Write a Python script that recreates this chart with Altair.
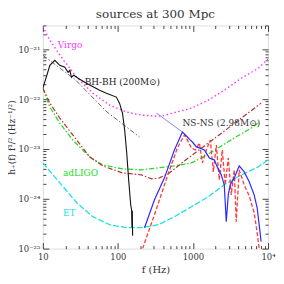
import altair as alt
import pandas as pd

FONT = "DejaVu Serif"

# ---------------- data ----------------
virgo_f = [10, 12.4, 18.5, 28.3, 46.1, 77.6, 131, 206, 326, 380, 953, 1603, 2612, 4395, 7390, 10000]
virgo_h = [2.88e-21, 1.51e-21, 6.31e-22, 2.75e-22, 1.32e-22, 7.59e-23, 5.50e-23, 4.79e-23, 4.57e-23,
           4.57e-23, 6.61e-23, 9.55e-23, 1.51e-22, 2.63e-22, 4.17e-22, 6.31e-22]

bhbh_f = [10, 12.4, 14.4, 16.8, 19.6, 21.7, 22.9, 24.0, 25.8, 29.5, 38.0, 57.1, 70.2, 95.2, 105, 115,
          123, 131, 139, 148, 152, 154, 155.5, 157]
bhbh_h = [1.66e-22, 4.79e-22, 6.03e-22, 4.79e-22, 4.37e-22, 3.47e-22, 3.80e-22, 2.75e-22, 3.02e-22,
          2.63e-22, 2.09e-22, 1.51e-22, 1.32e-22, 1.10e-22, 8.32e-23, 5.25e-23, 2.40e-23, 8.32e-24,
          2.40e-24, 7.59e-25, 6.03e-25, 2.63e-25, 5.75e-25, 1.82e-25]

bhfit_f = [10, 26.6, 71.7, 194]
bhfit_h = [7.59e-22, 2.51e-22, 5.50e-23, 1.74e-23]

adligo_f = [10, 12.4, 16.8, 25.0, 42.1, 62.6, 115, 206, 566, 953, 1217, 1603, 3548, 5970, 7620]
adligo_h = [1.66e-22, 6.92e-23, 3.31e-23, 1.51e-23, 6.92e-24, 4.79e-24, 3.98e-24, 3.80e-24,
            4.57e-24, 5.25e-24, 6.31e-24, 7.94e-24, 1.66e-23, 2.63e-23, 3.47e-23]

red_f = [10, 12.4, 16.8, 25.0, 42.1, 62.6, 115, 206, 281, 358, 486, 769, 1417, 2612, 4395, 8090]
red_h = [1.66e-22, 8.32e-23, 4.17e-23, 1.91e-23, 6.92e-24, 4.57e-24, 3.31e-24, 3.02e-24, 2.51e-24,
         2.63e-24, 3.31e-24, 5.75e-24, 1.15e-23, 2.29e-23, 4.17e-23, 8.32e-23]

et_f = [10, 16.8, 28.3, 46.1, 77.6, 131, 206, 347, 566, 953, 1603, 2612, 4395, 7390, 10000]
et_h = [5.25e-24, 2.09e-24, 8.32e-25, 4.37e-25, 3.02e-25, 2.63e-25, 2.63e-25, 3.02e-25, 4.37e-25,
        6.92e-25, 1.10e-24, 1.91e-24, 3.02e-24, 4.37e-24, 6.03e-24]

nsns_f = [226, 307, 417, 566, 723, 843, 923, 982, 1110, 1217, 1417, 1507, 1652, 1925, 2109, 2384,
          2612, 2777, 2952, 3138, 3548, 4130, 4816, 5610, 6535, 7163, 7620, 8090]
nsns_h = [2.63e-25, 9.55e-25, 2.63e-24, 9.55e-24, 2.19e-23, 1.74e-23, 1.51e-23, 1.38e-23, 1.10e-23,
          1.05e-23, 9.55e-24, 8.32e-24, 6.61e-24, 6.03e-24, 4.37e-24, 3.02e-24, 1.91e-24, 3.47e-25,
          1.20e-24, 1.91e-24, 2.63e-24, 4.57e-24, 3.47e-24, 2.19e-24, 1.20e-24, 6.61e-25, 3.02e-25,
          1.38e-25]

nsfit_f = [326, 723]
nsfit_h = [5.25e-23, 2.19e-23]

nsnum_f = [213, 307, 457, 621, 769, 843, 953, 1077, 1217, 1334, 1507, 1703, 1868, 2046, 2243, 2457,
           2692, 2952, 3236, 3548, 3770, 4130, 4816, 5610, 6535, 7163, 7620]
nsnum_h = [1.0e-25, 4.79e-25, 2.88e-24, 1.05e-23, 1.91e-23, 1.51e-23, 1.05e-23, 9.55e-24, 1.32e-23,
           5.25e-24, 9.55e-24, 1.51e-23, 3.47e-24, 1.20e-23, 2.40e-24, 9.55e-24, 1.91e-24, 6.61e-24,
           1.20e-24, 3.80e-24, 3.47e-25, 3.80e-24, 1.91e-24, 1.15e-24, 5.25e-25, 2.09e-25, 1.0e-25]

label_text = ["Virgo", "BH-BH (200M⊙)", "NS-NS (2.98M⊙)", "adLIGO", "ET"]
label_f = [15.8, 36.1, 723, 18.5, 18.5]
label_h = [1.2e-21, 2.19e-22, 3.31e-23, 3.31e-24, 5.25e-25]
label_color = ["#ff33ff", "#222222", "#333333", "#22dd22", "#22e0e0"]

x_major = [10, 100, 1000, 10000]
x_major_labels = ["10", "100", "1000", "10⁴"]
y_major_exp = [-25, -24, -23, -22, -21]
y_major_labels = ["10⁻²⁵", "10⁻²⁴", "10⁻²³", "10⁻²²", "10⁻²¹"]

x_domain = [10, 10000]
y_domain = [1e-25, 3.02e-21]

# ---------------- ticks ----------------
x_ticks = [float(f"{m}e{e}") for e in range(1, 4) for m in range(1, 10)] + [1e4]
y_ticks = [float(f"{m}e{e}") for e in range(-25, -21) for m in range(1, 10)] + [1e-21, 2e-21, 3e-21]

LOG = "(log(datum.value)/LN10)"
major_test = f"abs({LOG} - round({LOG})) < 0.001"


def label_expr(exps, labels):
    expr = "''"
    for e, lab in zip(reversed(exps), reversed(labels)):
        expr = f"round({LOG}) == {e} ? '{lab}' : {expr}"
    return f"{major_test} ? ({expr}) : ''"


x_expr = label_expr([1, 2, 3, 4], x_major_labels)
y_expr = label_expr(y_major_exp, y_major_labels)

TICK = 6
AX = "#444444"
tick_dash = {"condition": {"test": major_test, "value": [6, 0]}, "value": [0, 3, 3, 0]}

common = dict(tickSize=TICK, offset=-TICK, domain=False, grid=False, tickColor=AX,
              tickWidth=1, tickDash=tick_dash, labelFont=FONT, labelFontSize=8.5,
              labelColor="#333333", titleFont=FONT, titleFontWeight="normal",
              titleColor="#333333", labelFlush=False, labelOverlap=False)

x_axis = alt.Axis(orient="bottom", values=x_ticks, labelExpr=x_expr, labelPadding=4,
                  title="f (Hz)", titlePadding=3, titleFontSize=10, **common)
y_axis = alt.Axis(orient="left", values=y_ticks, labelExpr=y_expr, labelPadding=3,
                  title="h̃₊(f) f¹/² (Hz⁻¹/²)", titlePadding=1, titleFontSize=9, **common)
x_axis_top = alt.Axis(orient="top", values=x_ticks, labels=False, title=None, **common)
y_axis_right = alt.Axis(orient="right", values=y_ticks, labels=False, title=None, **common)

xs = alt.Scale(type="log", domain=x_domain, nice=False)
ys = alt.Scale(type="log", domain=y_domain, nice=False)


def curve(fv, hv, color, dash=None, width=1.0, axes=False, opacity=1.0):
    df = pd.DataFrame({"f": fv, "h": hv, "i": list(range(len(fv)))})
    kw = dict(color=color, strokeWidth=width, clip=True, opacity=opacity)
    if dash:
        kw["strokeDash"] = dash
    xa = x_axis if axes == "main" else (x_axis_top if axes == "frame" else None)
    ya = y_axis if axes == "main" else (y_axis_right if axes == "frame" else None)
    return alt.Chart(df).mark_line(**kw).encode(
        x=alt.X("f:Q", scale=xs, axis=xa),
        y=alt.Y("h:Q", scale=ys, axis=ya),
        order="i:Q",
    )


layers = [
    curve(et_f, et_h, "#22e0e0", [6, 2], 1.3, axes="main"),
    curve(et_f, et_h, "#22e0e0", None, 1.0, axes="frame", opacity=0),
    curve(virgo_f, virgo_h, "#ff33ff", [1.5, 2.5], 1.4),
    curve(adligo_f, adligo_h, "#22dd22", [5, 2, 1.5, 2], 1.3),
    curve(red_f, red_h, "#b83030", [5, 2, 1.5, 2], 1.2),
    curve(bhfit_f, bhfit_h, "#444444", [5, 2, 1.5, 2], 0.8),
    curve(bhbh_f, bhbh_h, "#111111", None, 1.1),
    curve(nsfit_f, nsfit_h, "#6a6aff", None, 0.8),
    curve(nsnum_f, nsnum_h, "#ff3a3a", [4, 2], 1.3),
    curve(nsns_f, nsns_h, "#2a2aff", None, 1.2),
]

labels_df = pd.DataFrame({"t": label_text, "f": label_f, "h": label_h, "c": label_color})
texts = alt.Chart(labels_df).mark_text(align="left", baseline="middle", font=FONT, fontSize=9).encode(
    x=alt.X("f:Q", scale=xs, axis=None),
    y=alt.Y("h:Q", scale=ys, axis=None),
    text="t:N",
    color=alt.Color("c:N", scale=None),
)

chart = alt.layer(*layers, texts).resolve_axis(x="independent", y="independent").properties(
    width=226,
    height=224,
    padding={"left": 35, "top": 17, "right": 8, "bottom": 27},
    autosize=alt.AutoSizeParams(type="none"),
    title=alt.Title("sources at 300 Mpc", font=FONT, fontSize=12, fontWeight="normal",
                    color="#333333", offset=1),
).configure_view(stroke=AX, strokeWidth=1).configure(background="white")

chart.save("out.html", embed_options={"renderer": "svg", "actions": False})
